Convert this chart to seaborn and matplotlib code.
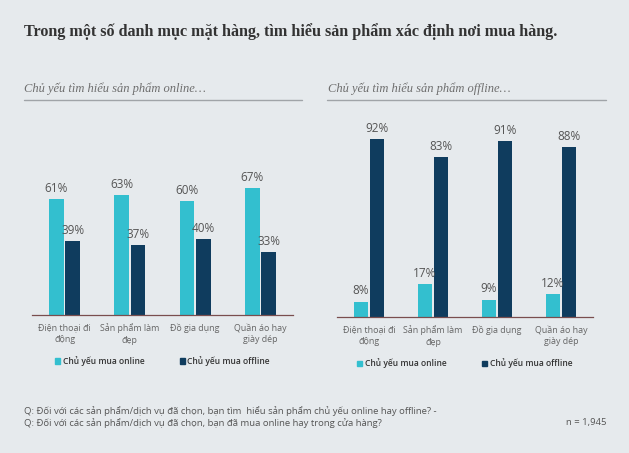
import pandas as pd
import matplotlib
matplotlib.use('Agg')
import matplotlib.pyplot as plt
from matplotlib.lines import Line2D
from matplotlib.patches import Patch
import seaborn as sns

categories = ['Điện thoại đi\nđộng', 'Sản phẩm làm\nđẹp', 'Đồ gia dụng', 'Quần áo hay\ngiày dép']
series = ['Chủ yếu mua online', 'Chủ yếu mua offline']
online_research_online = [61, 63, 60, 67]
online_research_offline = [39, 37, 40, 33]
offline_research_online = [8, 17, 9, 12]
offline_research_offline = [92, 83, 91, 88]

bg = '#e6eaed'
teal = '#33bfcf'
navy = '#0f3c5e'
palette = [teal, navy]

sns.set_style('white')
plt.rcParams['font.family'] = ['Open Sans', 'DejaVu Sans']

def make_df(on, off):
    return pd.DataFrame({
        'cat': categories * 2,
        'kind': [series[0]] * 4 + [series[1]] * 4,
        'pct': on + off,
    })

fig = plt.figure(figsize=(6.29, 4.53), dpi=100)
fig.patch.set_facecolor(bg)

ax1 = fig.add_axes([32/629, 138/453, 261/629, 190/453])
ax2 = fig.add_axes([337/629, 136/453, 256/629, 193/453])

for ax, on, off in [(ax1, online_research_online, online_research_offline),
                    (ax2, offline_research_online, offline_research_offline)]:
    df = make_df(on, off)
    sns.barplot(data=df, x='cat', y='pct', hue='kind', palette=palette,
                width=0.5, gap=0.1, ax=ax, saturation=1, legend=False,
                edgecolor='none', linewidth=0)
    ax.set_facecolor(bg)
    ax.set_ylim(0, 100)
    ax.set_xlim(-0.5, 3.5)
    for c in ax.containers:
        ax.bar_label(c, fmt='%d%%', padding=3, fontsize=8.5, color='#555555')
    for s in ['top', 'right', 'left']:
        ax.spines[s].set_visible(False)
    ax.spines['bottom'].set_color('#7a4e4e')
    ax.spines['bottom'].set_linewidth(0.9)
    ax.set_yticks([])
    ax.set_xlabel('')
    ax.set_ylabel('')
    ax.set_xticks(range(4))
    ax.set_xticklabels(categories, fontsize=6.4, color='#666666', linespacing=1.35)
    ax.tick_params(axis='x', which='major', length=0, pad=6)
    ax.set_xticks([-0.5, 0.5, 1.5, 2.5, 3.5], minor=True)
    ax.tick_params(axis='x', which='minor', length=4, color='#7a4e4e', width=0.9)
    handles = [Patch(color=teal), Patch(color=navy)]
    leg = ax.legend(handles, series, loc='upper center', bbox_to_anchor=(0.5, -0.175),
                    ncol=2, frameon=False, fontsize=6.1, handlelength=0.6,
                    handleheight=0.6, handletextpad=0.3, columnspacing=4.2)
    for t in leg.get_texts():
        t.set_color('#333333')
        t.set_fontweight('semibold')

fig.text(24/629, 1 - 32/453, 'Trong một số danh mục mặt hàng, tìm hiểu sản phẩm xác định nơi mua hàng.',
         family='Liberation Serif', fontweight='bold', fontsize=11.6, color='#333333', va='center')
fig.text(24/629, 1 - 89/453, 'Chủ yếu tìm hiểu sản phẩm online…', family='Liberation Serif',
         style='italic', fontsize=9, color='#6e6e6e', va='center')
fig.text(328/629, 1 - 89/453, 'Chủ yếu tìm hiểu sản phẩm offline…', family='Liberation Serif',
         style='italic', fontsize=9, color='#6e6e6e', va='center')
fig.add_artist(Line2D([24/629, 302/629], [1 - 100/453] * 2, color='#a0a4a8', lw=1))
fig.add_artist(Line2D([327/629, 606/629], [1 - 100/453] * 2, color='#a0a4a8', lw=1))

fig.text(24/629, 1 - 411/453, 'Q: Đối với các sản phẩm/dịch vụ đã chọn, bạn tìm  hiểu sản phẩm chủ yếu online hay offline? -',
         fontsize=6.8, color='#555555', va='center')
fig.text(24/629, 1 - 423/453, 'Q: Đối với các sản phẩm/dịch vụ đã chọn, bạn đã mua online hay trong cửa hàng?',
         fontsize=6.8, color='#555555', va='center')
fig.text(607/629, 1 - 423/453, 'n = 1,945', fontsize=6.8, color='#555555', va='center', ha='right')

fig.savefig('out.png', dpi=100, facecolor=bg)
